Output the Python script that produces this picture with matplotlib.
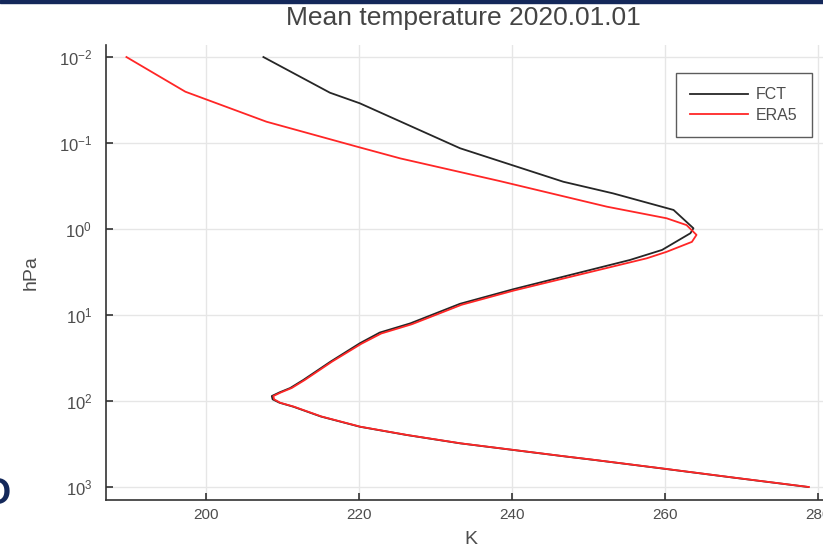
import numpy as np
import matplotlib
matplotlib.use("Agg")
import matplotlib.pyplot as plt
from matplotlib.ticker import FixedLocator, NullLocator

# mean temperature profiles, pressure in hPa, temperature in K
p_fct = [0.01, 0.026, 0.0345, 0.115, 0.282, 0.385, 0.60, 0.98, 1.12, 1.75,
         2.29, 5.0, 7.4, 12.5, 16.0, 21.3, 34.7, 57.0, 70.6, 79.4, 87.5,
         95.5, 104.7, 116.4, 151.4, 199.1, 248.3, 310.5, 364.8, 436.5,
         485.3, 602.6, 783.4, 1000.0]
t_fct = [207.5, 216.2, 220.1, 233.2, 246.7, 253.2, 261.1, 263.7, 263.3, 259.6,
         255.4, 240.2, 233.2, 226.7, 222.7, 220.1, 216.3, 212.7, 211.0, 209.6,
         208.6, 208.7, 209.6, 211.4, 215.0, 220.1, 226.2, 233.2, 239.5, 246.5,
         250.8, 259.2, 269.2, 278.7]

p_era5 = [0.01, 0.0253, 0.0565, 0.110, 0.151, 0.277, 0.55, 0.75, 0.90, 1.17,
          1.41, 1.84, 2.19, 5.2, 7.6, 12.8, 16.4, 21.6, 34.7, 57.0, 70.6,
          79.4, 87.5, 95.5, 104.7, 116.4, 151.4, 199.1, 248.3, 310.5, 364.8,
          436.5, 485.3, 602.6, 783.4, 1000.0]
t_era5 = [189.6, 197.3, 207.9, 219.7, 225.4, 238.4, 252.4, 260.2, 262.8, 264.1,
          263.5, 260.2, 257.6, 240.2, 233.4, 226.9, 222.9, 220.3, 216.5, 212.9,
          211.2, 209.8, 208.8, 208.9, 209.7, 211.5, 215.1, 220.2, 226.3, 233.3,
          239.6, 246.6, 250.9, 259.3, 269.3, 278.8]

x_ticks = [200, 220, 240, 260, 280]
y_ticks = [1e-2, 1e-1, 1e0, 1e1, 1e2, 1e3]
y_labels = [r"$10^{-2}$", r"$10^{-1}$", r"$10^{0}$", r"$10^{1}$", r"$10^{2}$", r"$10^{3}$"]

plt.rcParams["font.family"] = ["Liberation Sans", "DejaVu Sans"]
plt.rcParams["mathtext.fontset"] = "custom"
plt.rcParams["mathtext.rm"] = "Liberation Sans"
plt.rcParams["mathtext.it"] = "Liberation Sans"

W, H = 823, 551
fig = plt.figure(figsize=(W / 100, H / 100), dpi=100)
fig.patch.set_facecolor("white")

# plot area runs off the right edge of the figure
ax = fig.add_axes([106 / W, 1 - 500 / H, (835 - 106) / W, (500 - 45) / H])
ax.plot(t_fct, p_fct, color="#262626", lw=1.3, label="FCT")
ax.plot(t_era5, p_era5, color="#ff2626", lw=1.3, label="ERA5")

ax.set_yscale("log")
ax.set_xlim(186.93, 282.2)
ax.set_ylim(10 ** 3.151, 10 ** -2.14)

ax.xaxis.set_major_locator(FixedLocator(x_ticks))
ax.yaxis.set_major_locator(FixedLocator(y_ticks))
ax.yaxis.set_minor_locator(NullLocator())
ax.set_yticklabels(y_labels)

ax.grid(True, color="#e6e6e6", lw=1.0)
ax.set_axisbelow(True)
for side in ("top", "right"):
    ax.spines[side].set_visible(False)
for side in ("left", "bottom"):
    ax.spines[side].set_color("#333333")
    ax.spines[side].set_linewidth(1.2)

ax.tick_params(axis="both", direction="in", length=5, width=1.2, color="#333333",
               labelsize=11, labelcolor="#4d4d4d")
ax.tick_params(axis="y", labelsize=12, pad=10)
ax.tick_params(axis="x", pad=6)

ax.set_xlabel("K", fontsize=14, color="#4d4d4d", labelpad=6)
ax.set_ylabel("hPa", fontsize=14, color="#4d4d4d", labelpad=14)
fig.text(463 / W, 1 - 18 / H, "Mean temperature 2020.01.01", fontsize=19,
         color="#444444", ha="center", va="center")

leg = ax.legend(loc="upper left", bbox_to_anchor=(676 / W, 1 - 73 / H),
                bbox_transform=fig.transFigure, fontsize=11.5, frameon=True,
                fancybox=False, handlelength=3.6, borderpad=0.9,
                labelspacing=0.35, handletextpad=0.5, borderaxespad=0)
leg.get_frame().set_edgecolor("#333333")
leg.get_frame().set_linewidth(1.0)
for txt in leg.get_texts():
    txt.set_color("#4d4d4d")

# slide decorations around the figure
fig.patches.append(plt.Rectangle((0, 1 - 3 / H), 1, 3 / H, transform=fig.transFigure,
                                 color="#14285a", zorder=10))
fig.text(-17 / W, 1 - 494 / H, "O", fontsize=26, fontweight="bold",
         color="#14285a", ha="left", va="center")

fig.savefig("out.png", dpi=100)
